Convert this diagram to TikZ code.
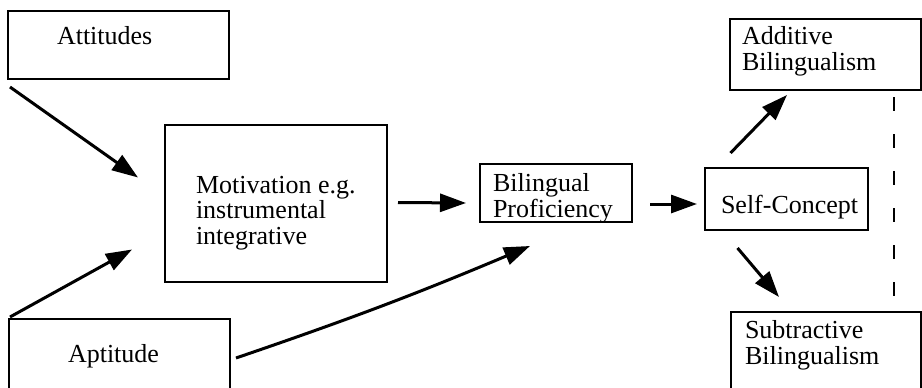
\documentclass[tikz,border=0pt]{standalone}
\usepackage{fontspec}
\setmainfont{Liberation Serif}
\usetikzlibrary{arrows.meta,calc}
\begin{document}
\begin{tikzpicture}[x=1pt,y=-1pt,
  box/.style={draw,line width=1.8pt,inner sep=0pt,outer sep=0pt,anchor=north west},
  label text/.style={inner sep=0pt,outer sep=0pt,anchor=base west,align=left,
    font=\fontsize{26}{25.5}\selectfont},
  link/.style={line width=3pt,-{Triangle[length=26pt,width=18pt]}},
  divider/.style={line width=1.6pt,dash pattern=on 14pt off 23pt}]
  \useasboundingbox (0,0) rectangle (922,388);
  \clip (0,0) rectangle (922,388);

  % boxes
  \node[box,minimum width=221pt,minimum height=68pt]  (att) at (8,11) {};
  \node[box,minimum width=221pt,minimum height=90pt]  (apt) at (9,319) {};
  \node[box,minimum width=222pt,minimum height=157pt] (mot) at (165,125) {};
  \node[box,minimum width=152pt,minimum height=58pt]  (bil) at (480,164) {};
  \node[box,minimum width=163pt,minimum height=62pt]  (self) at (705,168) {};
  \node[box,minimum width=191pt,minimum height=71pt]  (add) at (730,19) {};
  \node[box,minimum width=190pt,minimum height=90pt]  (sub) at (731,312) {};

  % box texts (placed by the baseline of their last line)
  \node[label text] (attT)  at (57,45)   {Attitudes};
  \node[label text] (aptT)  at (68,362)  {Aptitude};
  \node[label text] (motT)  at (196,244) {Motivation e.g.\\instrumental\\integrative};
  \node[label text] (bilT)  at (493,217) {Bilingual\\Proficiency};
  \node[label text] (selfT) at (721,213) {Self-Concept};
  \node[label text] (addT)  at (742,70)  {Additive\\Bilingualism};
  \node[label text] (subT)  at (745,364) {Subtractive\\Bilingualism};

  % connectors
  \draw[link] ($(att.south west)+(2,8)$) -- ($(mot.west)+(-27,-26)$);
  \draw[link] ($(apt.north west)+(1,-2)$) -- ($(mot.west)+(-33,46)$);
  \draw[link] ($(mot.east)+(11,-1)$) -- ($(bil.west)+(-14,10)$);
  \draw[link] ($(apt.north east)+(6,39)$) to[bend right=2] ($(bil.south)+(-26,24)$);
  \draw[link] ($(bil.east)+(18,11)$) -- ($(self.west)+(-8,5)$);
  \draw[link] ($(self.north)+(-56,-15)$) -- ($(add.south west)+(57,5)$);
  \draw[link] ($(self.south)+(-49,18)$) -- ($(sub.north west)+(48,-15)$);

  % dashed divider between the two outcomes
  \coordinate (divTop) at ($(add.south west)+(164,7)$);
  \coordinate (divBot) at ($(sub.north west)+(163,0)$);
  \draw[divider] (divTop) -- (divBot);
\end{tikzpicture}
\end{document}
